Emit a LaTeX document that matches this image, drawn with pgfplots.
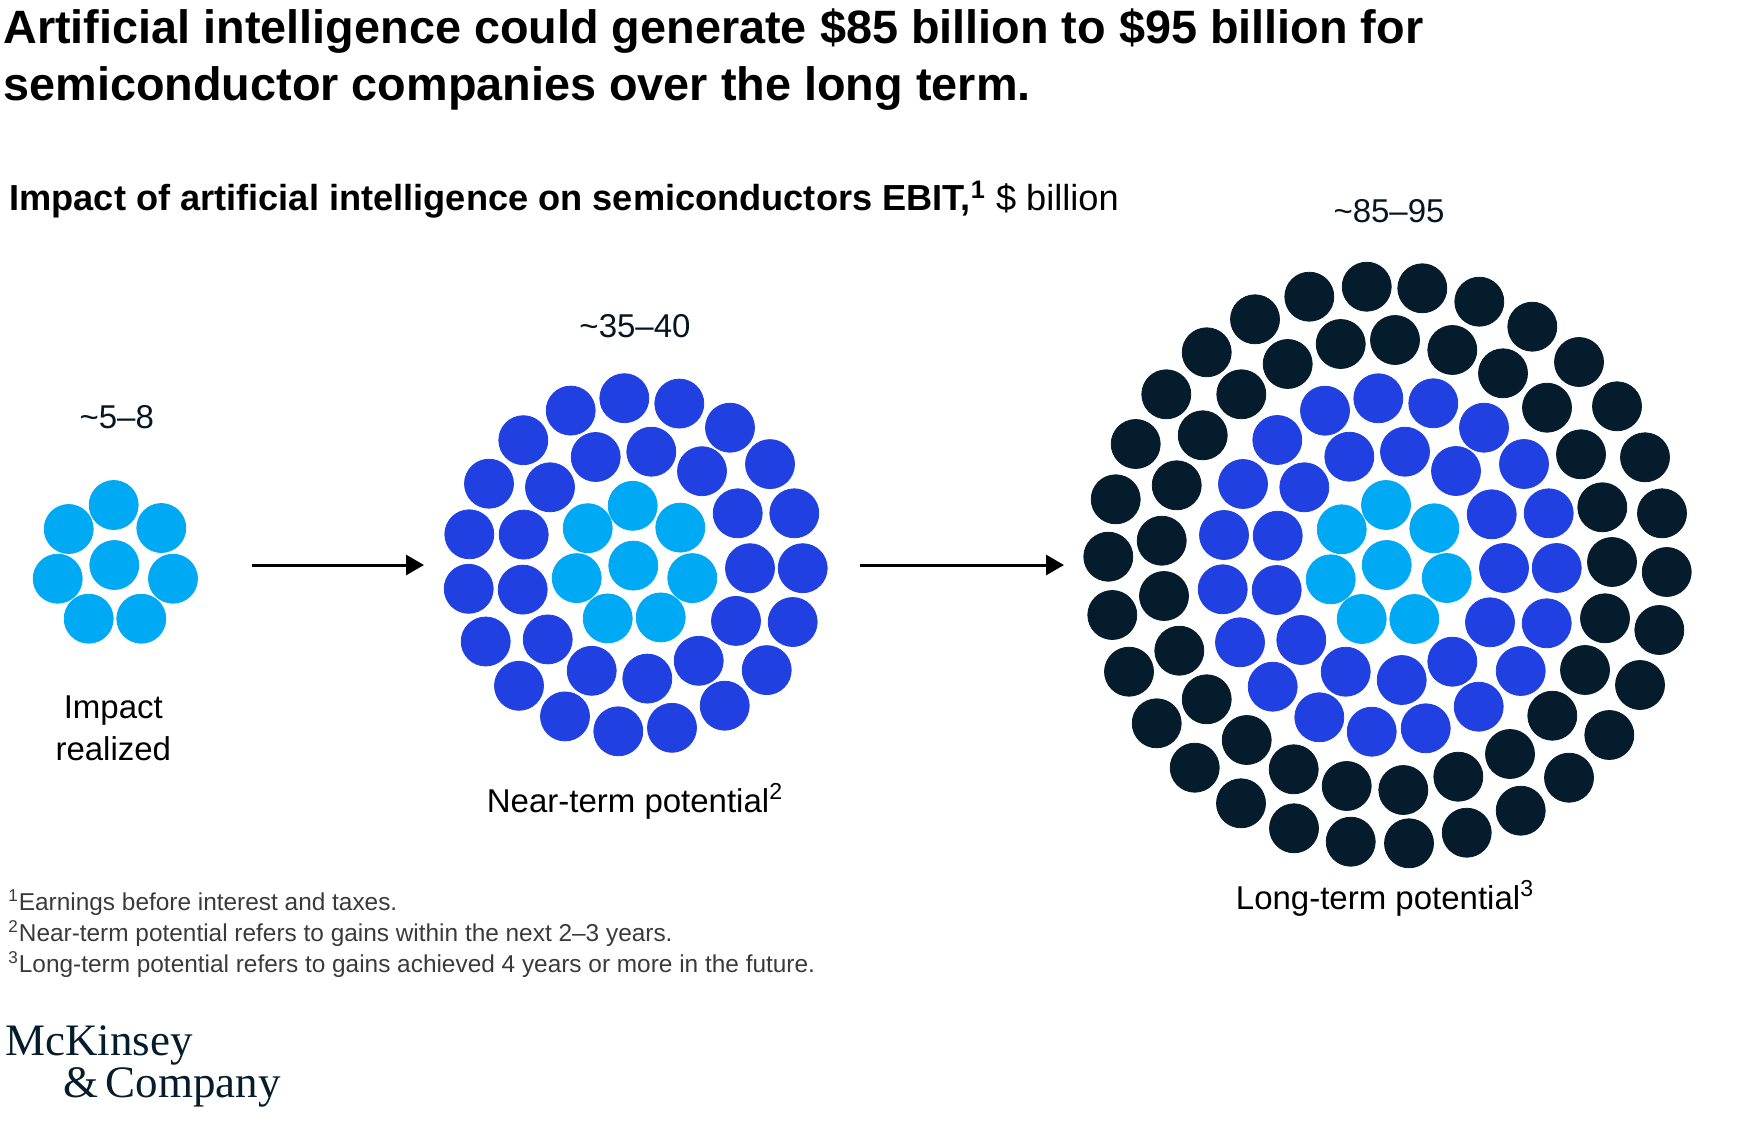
\documentclass[border=0pt]{standalone}
\usepackage{fontspec}
\setmainfont{Liberation Sans}
\newfontfamily\logofont{Liberation Serif}
\usepackage{pgfplots}
\pgfplotsset{compat=1.18}
\usetikzlibrary{arrows.meta}

\definecolor{cyanb}{HTML}{00A9F4}
\definecolor{royal}{HTML}{2140E2}
\definecolor{navy}{HTML}{051C2C}
\definecolor{note}{HTML}{3A3A3A}

% 1 px of the reference = 0.5pt
\pgfplotsset{
  circ/.style={only marks, mark=*, mark size=12.25pt, mark options={draw=none}},
}

\begin{document}
\begin{tikzpicture}
\begin{axis}[
  at={(0,0)}, anchor=south west,
  width=879.5pt, height=564.5pt, scale only axis,
  xmin=0, xmax=1759, ymin=0, ymax=1129, y dir=reverse,
  hide axis, clip=false,
]
% impact realized
\addplot[circ, color=cyanb] coordinates {
(113.7,505) (68.7,529) (161.3,528) (114.3,565) (57.7,578.7) (173,578.7) (88.7,618.7) (141.3,618.7)
};
% near-term
\addplot[circ, color=cyanb] coordinates {
(632.7,505.8) (587.7,528.2) (680.3,527.6) (633.3,565.6) (576.7,578.1) (692.3,578.1) (607.7,618.4) (660.7,617.4)
};
\addplot[circ, color=royal] coordinates {
(624.3,398.2) (679.3,403.6) (570.7,410.6) (730,427.7) (523.3,440.2) (595.7,457.0) (651.3,451.7) (702,471.2)
(770,464.1) (489,483.7) (550,487.3) (737.7,513.3) (794.3,513.3) (469.3,534.3) (523.7,534.6) (750,568.2)
(802.7,568.2) (468.7,588.8) (522.7,589.6) (736,620.9) (792.7,622.0) (485.7,641.5) (547.7,639.4) (698.7,660.8)
(766.7,670.1) (591.7,670.8) (647.3,678.6) (519,685.8) (724.7,705.7) (565,716.4) (618.3,731.3) (672,727.8)
};
% long-term
\addplot[circ, color=cyanb] coordinates {
(1386,505) (1341.7,529.3) (1434.3,528.3) (1386.7,565) (1330.7,579.3) (1446.7,578) (1361.7,619) (1414.3,619)
};
\addplot[circ, color=royal] coordinates {
(1378.3,398.3) (1325,410.7) (1277.3,440) (1349.3,456.7) (1405,451.7) (1243,484) (1304.3,487.3) (1224,535)
(1277.7,535.7) (1433.3,403.3) (1484,427.7) (1456,471) (1524,464) (1491.7,514.3) (1548.7,513.3) (1504,568)
(1556.7,568) (1222.7,589.3) (1276.7,590) (1240,642.3) (1301.3,640) (1272.7,686.7) (1345.7,671.7) (1319.3,717.3)
(1371.7,731.7) (1490,622.3) (1546.7,623.3) (1452.3,661.7) (1520.7,671) (1401.7,680) (1478.7,706.7) (1425.7,728.3)
};
\addplot[circ, color=navy] coordinates {
(1366.7,286.7) (1309.3,296.7) (1255,319.3) (1206.7,352.3) (1166.3,394.3) (1135.7,444) (1115.7,499.3) (1108.3,556.7)
(1112.3,615) (1129,671.7) (1156.7,723.3) (1194.7,767.7) (1241,803.3) (1294,828.3) (1350.7,841.7) (1409,843.3)
(1466.7,832.7) (1520.7,810.7) (1569,777.7) (1609.3,735) (1640,685) (1659.3,630) (1666.7,572) (1662,513.3)
(1645,457.3) (1617,406.3) (1579,362) (1532.3,326.7) (1479.3,301.7) (1422.3,288.3)
(1395,340) (1340.7,344) (1287.7,364) (1241.3,394.3) (1202.7,435.3) (1176.7,485.3) (1161.7,540.7) (1164,596)
(1179.3,650.7) (1206.7,699.3) (1246.7,740) (1293.7,769.3) (1346.7,786) (1403.3,790) (1458.3,776.7) (1510,754)
(1552.3,715.7) (1585,670) (1605,618.3) (1612,562) (1602.3,507.3) (1581,454.3) (1547,407.7) (1503,373.3) (1452.3,350)
};
% arrows
\addplot[black, line width=1.5pt, -{Triangle[length=9pt,width=10pt]}] coordinates {(252,565) (424,565)};
\addplot[black, line width=1.5pt, -{Triangle[length=9pt,width=10pt]}] coordinates {(860,565) (1064,565)};

% titles
\begin{scope}[every node/.style={anchor=base west, inner sep=0pt}]
\node[font=\fontsize{23.4}{28}\selectfont\bfseries] at (axis cs:3,44)
  {Artificial intelligence could generate \$85 billion to \$95 billion for};
\node[font=\fontsize{23.4}{28}\selectfont\bfseries] at (axis cs:3,101)
  {semiconductor companies over the long term.};
\node[font=\fontsize{18.1}{22}\selectfont] at (axis cs:9,211)
  {\textbf{Impact of artificial intelligence on semiconductors EBIT,\textsuperscript{1}} \$ billion};
\end{scope}

% labels
\begin{scope}[every node/.style={font=\fontsize{16.5}{20}\selectfont, text=navy!80!black}]
\node[anchor=base] at (axis cs:116.7,428.6) {\textasciitilde 5–8};
\node[anchor=base] at (axis cs:635,337.7) {\textasciitilde 35–40};
\node[anchor=base] at (axis cs:1389,222) {\textasciitilde 85–95};
\node[anchor=base, text=black] at (axis cs:113.3,718) {Impact};
\node[anchor=base, text=black] at (axis cs:113.3,760) {realized};
\node[anchor=base, text=black] at (axis cs:635,812) {Near-term potential\textsuperscript{2}};
\node[anchor=base, text=black] at (axis cs:1385,909) {Long-term potential\textsuperscript{3}};
\end{scope}

% footnotes
\begin{scope}[every node/.style={anchor=base west, inner sep=0pt, font=\fontsize{12.2}{14}\selectfont, text=note}]
\node at (axis cs:8,910) {\textsuperscript{1}Earnings before interest and taxes.};
\node at (axis cs:8,941) {\textsuperscript{2}Near-term potential refers to gains within the next 2–3 years.};
\node at (axis cs:8,972) {\textsuperscript{3}Long-term potential refers to gains achieved 4 years or more in the future.};
\end{scope}

% logo
\begin{scope}[every node/.style={anchor=base west, inner sep=0pt, font=\logofont\fontsize{22.5}{24}\selectfont, text=navy}]
\node at (axis cs:5,1055) {McKinsey};
\node at (axis cs:63,1097) {\&\,Company};
\end{scope}
\end{axis}
\pgfresetboundingbox
\path[use as bounding box] (0,0) rectangle (879.5pt,564.5pt);
\end{tikzpicture}
\end{document}
